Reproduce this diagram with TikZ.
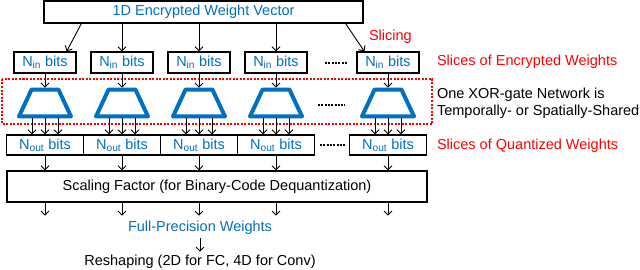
\documentclass[tikz,border=0pt]{standalone}
\usepackage{fontspec}
\setmainfont{Liberation Sans}
\usetikzlibrary{shapes.geometric,arrows.meta}
\definecolor{xorblue}{RGB}{0,112,192}
\definecolor{slicered}{RGB}{255,0,0}

\begin{document}
\begin{tikzpicture}[x=1pt, y=-1pt, >={Straight Barb[length=4pt,width=8pt]},
    every node/.style={font=\fontsize{14.5}{17}\selectfont},
    ninbox/.style={draw, line width=1.3pt, minimum width=62pt, minimum height=21pt, inner sep=0pt, text=xorblue},
    noutbox/.style={draw, line width=1.3pt, minimum width=77pt, minimum height=20pt, inner sep=0pt, text=xorblue},
    xorgate/.style={draw=xorblue, line width=4pt, line join=round, trapezium, trapezium angle=65, minimum width=52pt, minimum height=26pt, inner sep=1pt},
    arr/.style={->, line width=0.9pt},
    dots/.style={line width=1.3pt, dash pattern=on 2pt off 1.3pt}]

    \useasboundingbox (0,0) rectangle (640,270);

    % 共有される XOR ゲート網の枠
    \draw[slicered, line width=1.2pt, dash pattern=on 2pt off 1.5pt] (2,79) rectangle (432,124);

    % 暗号化された 1 次元重みベクトル
    \node[draw, line width=1.3pt, minimum width=319pt, minimum height=22pt, inner sep=0pt, text=xorblue] (vec) at (203.5,12) {1D Encrypted Weight Vector};

    % 各列: N_in ビット -> XOR ゲート網 -> N_out ビット
    \foreach \x/\i in {45/1, 122/2, 199/3, 276/4, 388/5} {
        \node[ninbox] (nin\i) at (\x,62.5) {N\textsubscript{in} bits};
        \node[xorgate] (xor\i) at (\x,103) {};
        \node[noutbox] (nout\i) at (\x,145) {N\textsubscript{out} bits};
        \draw[arr] (nin\i.south) -- (xor\i.north);
        \foreach \d in {-13,0,13}
            \draw[arr] ([xshift=\d pt]xor\i.south) -- ([xshift=\d pt]nout\i.north);
    }

    % スライシング
    \draw[arr] ([xshift=38pt]vec.south west) -- ([xshift=-10pt]nin1.north east);
    \foreach \i in {2,3,4}
        \draw[arr] (vec.south -| nin\i) -- (nin\i.north);
    \draw[arr] ([xshift=-18pt]vec.south east) -- ([xshift=8pt]nin5.north west);

    % 省略記号
    \draw[dots] (325,63) -- (348,63);
    \draw[dots] (318,105) -- (345,105);
    \draw[dots] (320,145) -- (345,145);

    % スケーリング係数
    \node[draw, line width=1.3pt, minimum width=420pt, minimum height=31pt, inner sep=0pt] (scale) at (217,186.5) {Scaling Factor (for Binary-Code Dequantization)};
    \foreach \i in {1,...,5} {
        \draw[arr] (nout\i.south) -- (nout\i |- scale.north);
        \draw[arr] (scale.south -| nout\i) -- ++(0,13);
    }

    % 出力
    \node[text=xorblue] (fpw) at (200,228) {Full-Precision Weights};
    \node (resh) at (200,262) {Reshaping (2D for FC, 4D for Conv)};
    \draw[arr] (fpw) -- (resh);

    % 右側の説明
    \node[anchor=west, text=slicered] (slicing) at (365.5,37) {Slicing};
    \node[anchor=west, text=slicered] (encw) at (433.5,62) {Slices of Encrypted Weights};
    \node[anchor=west, align=left] (xorinfo) at (433.5,103.5) {One XOR-gate Network is\\Temporally- or Spatially-Shared};
    \node[anchor=west, text=slicered] (quantw) at (433.5,146) {Slices of Quantized Weights};

\end{tikzpicture}
\end{document}
